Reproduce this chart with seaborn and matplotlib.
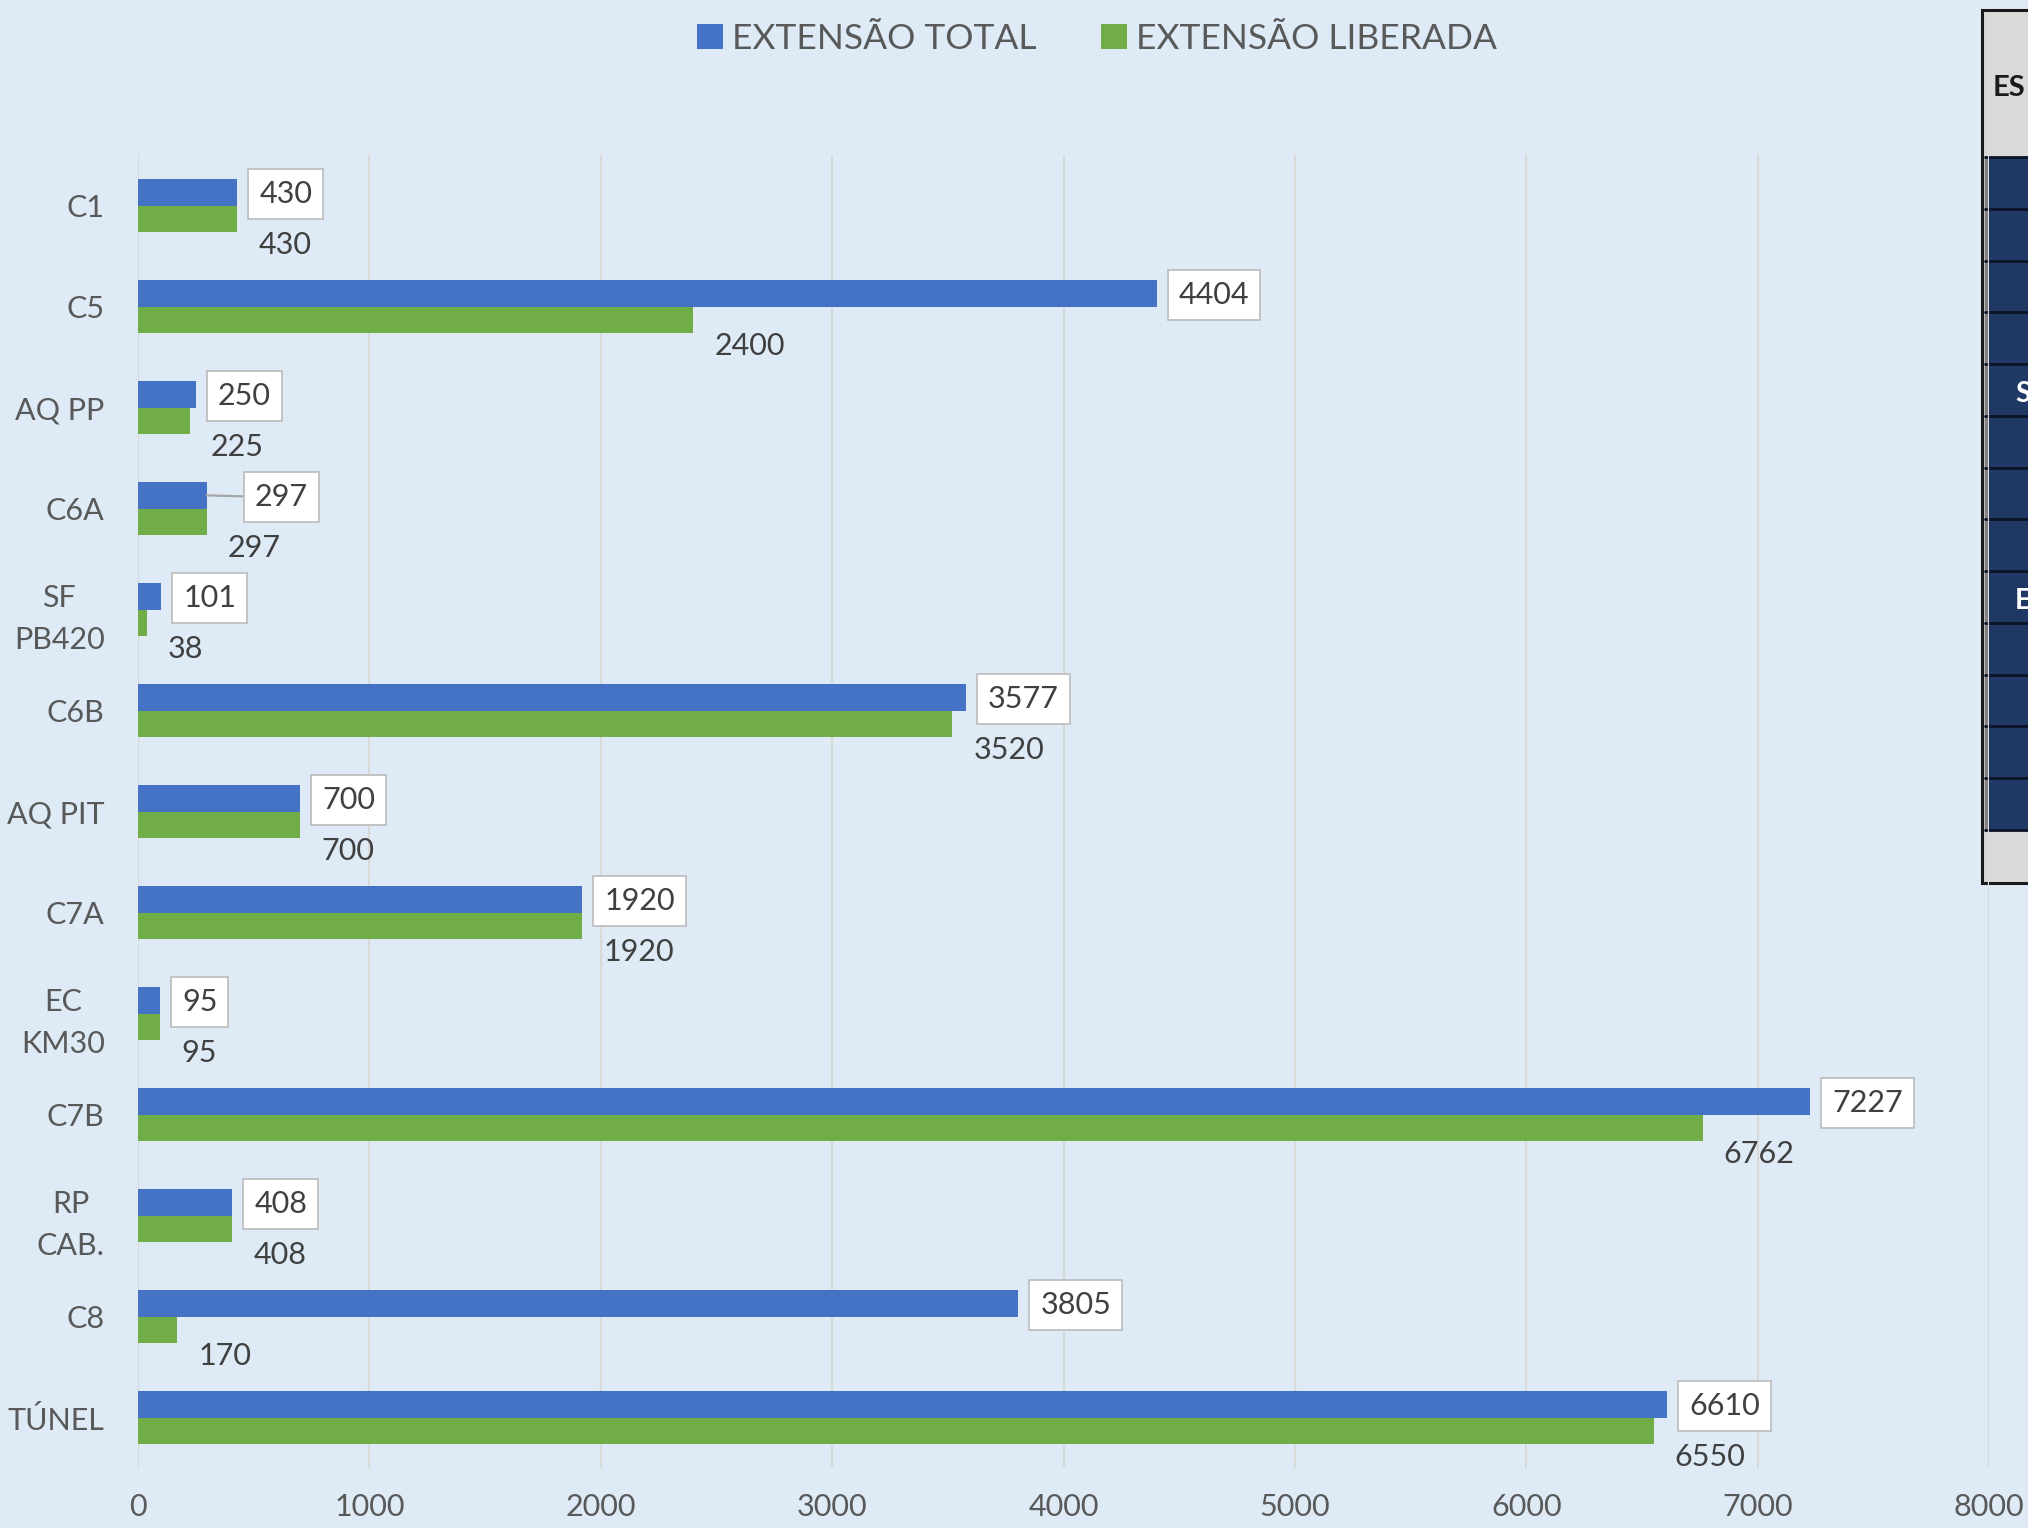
import matplotlib
matplotlib.use("Agg")
import matplotlib.pyplot as plt
from matplotlib.patches import Rectangle
from matplotlib.lines import Line2D
import seaborn as sns
import pandas as pd

# ---------------- data ----------------
categories = ["C1", "C5", "AQ PP", "C6A", "SF\nPB420", "C6B", "AQ PIT", "C7A",
              "EC\nKM30", "C7B", "RP\nCAB.", "C8", "TÚNEL"]
extensao_total = [430, 4404, 250, 297, 101, 3577, 700, 1920, 95, 7227, 408, 3805, 6610]
extensao_liberada = [430, 2400, 225, 297, 38, 3520, 700, 1920, 95, 6762, 408, 170, 6550]
series_names = ["EXTENSÃO TOTAL", "EXTENSÃO LIBERADA"]
x_ticks = [0, 1000, 2000, 3000, 4000, 5000, 6000, 7000, 8000]

# ---------------- style ----------------
W, H = 2028, 1528
BG = "#DEEBF7"
BLUE = "#4472C4"
GREEN = "#70AD47"
GRID = "#D9D9D9"
TXT = "#595959"
LBL = "#404040"

sns.set_style("white")
plt.rcParams["font.family"] = ["Lato", "DejaVu Sans"]

df = pd.DataFrame({
    "trecho": categories * 2,
    "valor": extensao_total + extensao_liberada,
    "serie": [series_names[0]] * len(categories) + [series_names[1]] * len(categories),
})

fig = plt.figure(figsize=(W / 100, H / 100), dpi=100, facecolor=BG)
ax = fig.add_axes([138 / W, 1 - 1468 / H, (1989 - 138) / W, (1468 - 155) / H])
ax.set_facecolor("none")

sns.barplot(data=df, x="valor", y="trecho", hue="serie", orient="h",
            order=categories, hue_order=series_names,
            palette=[BLUE, GREEN], saturation=1, width=0.52,
            errorbar=None, ax=ax, zorder=2, linewidth=0, edgecolor="none")

ax.set_xlim(0, 8000)
ax.set_xticks(x_ticks, labels=[str(t) for t in x_ticks])
ax.set_ylim(len(categories) - 0.5, -0.5)
ax.set_yticks(range(len(categories)), labels=categories,
              multialignment="center", linespacing=1.62)
ax.grid(axis="x", color=GRID, lw=1.6)
ax.grid(axis="y", visible=False)
ax.set_axisbelow(True)
for s in ax.spines.values():
    s.set_visible(False)
ax.tick_params(axis="both", length=0, labelcolor=TXT)
ax.tick_params(axis="x", pad=18, labelsize=22)
ax.tick_params(axis="y", pad=24, labelsize=22)
ax.set_xlabel("")
ax.set_ylabel("")

# ---------------- data labels ----------------
leader_extra = {"C6A": 26}  # label moved right with a leader line
box = dict(boxstyle="square,pad=0.36", fc="white", ec="#BFBFBF", lw=1.3)
for cat, p, v in zip(categories, ax.containers[0], extensao_total):
    xe = p.get_width()
    yc = p.get_y() + p.get_height() / 2
    extra = leader_extra.get(cat, 0)
    kw = {}
    if extra:
        kw["arrowprops"] = dict(arrowstyle="-", color="#A6A6A6", lw=1.6,
                                shrinkA=0, shrinkB=0)
    ax.annotate(f"{v}", xy=(xe, yc), xytext=(22 + extra, -2),
                textcoords="offset pixels", ha="left", va="center",
                fontsize=22, color=LBL, bbox=box, zorder=5, **kw)

for p, v in zip(ax.containers[1], extensao_liberada):
    xe = p.get_width()
    yc = p.get_y() + p.get_height() / 2
    ax.annotate(f"{v}", xy=(xe, yc), xytext=(21, -26),
                textcoords="offset pixels", ha="left", va="center",
                fontsize=22, color=LBL, zorder=5)

# ---------------- legend ----------------
handles, labels = ax.get_legend_handles_labels()
if ax.get_legend() is not None:
    ax.get_legend().remove()
fig.legend(handles, labels, loc="center", bbox_to_anchor=(0.541, 1 - 39 / H),
           ncol=2, frameon=False, fontsize=25.5, handlelength=0.73,
           handleheight=0.73, handletextpad=0.25, columnspacing=1.83,
           labelcolor=TXT)

# ---------------- partially visible table at right edge ----------------
def fx(x):
    return x / W

def fy(y):
    return 1 - y / H

fig.add_artist(Rectangle((fx(1982), fy(883)), fx(2060) - fx(1982), fy(10) - fy(883),
                         transform=fig.transFigure, fc="#D9D9D9", ec="#1A1A1A",
                         lw=2.2, zorder=-2))
fig.add_artist(Rectangle((fx(1985), fy(830)), fx(2060) - fx(1985), fy(157) - fy(830),
                         transform=fig.transFigure, fc="#1F3864", ec="none",
                         zorder=-2))
fig.add_artist(Line2D([fx(1986), fx(1986)], [fy(157), fy(830)],
                      transform=fig.transFigure, color="#7F7F7F", lw=2.5, zorder=-1))
row_h = (830 - 157) / 13
for k in range(0, 14):
    yy = 157 + k * row_h
    fig.add_artist(Line2D([fx(1985), fx(2060)], [fy(yy), fy(yy)],
                          transform=fig.transFigure, color="#0B1426", lw=2.0,
                          zorder=-1))
fig.text(fx(1993), fy(88), "ES", ha="left", va="center", fontsize=21,
         fontweight="bold", color="#1A1A1A", zorder=-1)
fig.text(fx(2015), fy(394), "S", ha="left", va="center", fontsize=20,
         fontweight="bold", color="white", zorder=-1)
fig.text(fx(2015), fy(601), "E", ha="left", va="center", fontsize=20,
         fontweight="bold", color="white", zorder=-1)

fig.savefig("out.png", dpi=100, facecolor=BG)
